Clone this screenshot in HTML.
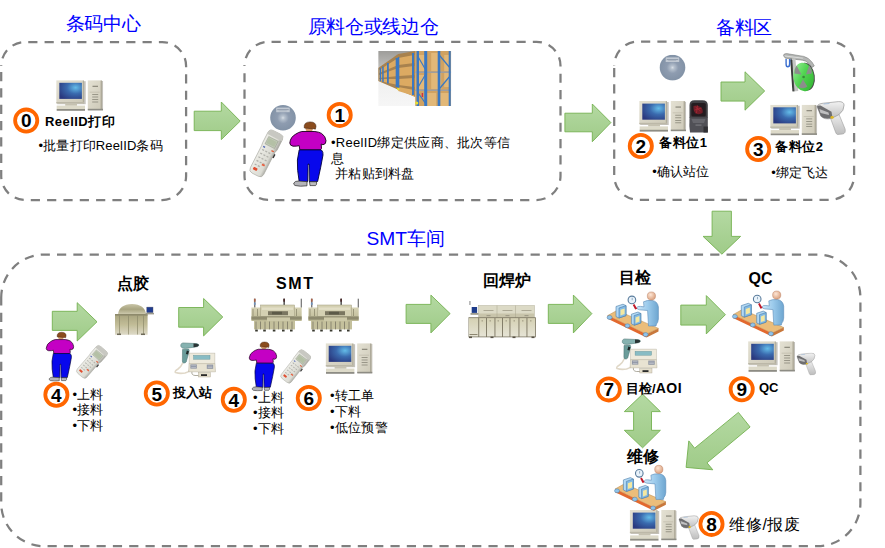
<!DOCTYPE html>
<html><head><meta charset="utf-8">
<style>
html,body{margin:0;padding:0;background:#fff;}
body{width:885px;height:548px;position:relative;overflow:hidden;font-family:"Liberation Sans",sans-serif;color:#000;}
.t{position:absolute;white-space:nowrap;line-height:1;}
.ti{color:#0000ff;font-size:19.2px;letter-spacing:-0.3px;}
.b{font-weight:bold;font-size:13px;}
.h{font-weight:bold;font-size:16px;}
.r{font-size:13px;}
svg{position:absolute;left:0;top:0;}
</style></head><body>
<svg width="885" height="548" viewBox="0 0 885 548">
<!--ICONS-->
<defs>
<radialGradient id="scr" cx="0.72" cy="0.3" r="0.85">
 <stop offset="0" stop-color="#64bce8"/><stop offset="0.45" stop-color="#3a6aae"/><stop offset="1" stop-color="#2a387e"/>
</radialGradient>
<linearGradient id="bez" x1="0" y1="0" x2="1" y2="1">
 <stop offset="0" stop-color="#e4e1d3"/><stop offset="1" stop-color="#cdc9b8"/>
</linearGradient>
<symbol id="pc" viewBox="0 0 47 31">
 <rect x="1" y="1" width="28.5" height="23" fill="#9c9a90" opacity="0.6"/>
 <rect x="0" y="0" width="27.8" height="23.2" fill="url(#bez)"/>
 <rect x="26.6" y="0.3" width="1.2" height="22.9" fill="#b1ad9c"/>
 <rect x="0" y="21.8" width="27.8" height="1.4" fill="#bcb8a8"/>
 <rect x="3.1" y="2.6" width="22.6" height="16.1" fill="url(#scr)"/>
 <rect x="9" y="23.2" width="11.8" height="2.4" fill="#c6c2b1"/>
 <rect x="0.4" y="25.4" width="28.4" height="3.6" fill="#dddac9"/>
 <rect x="0.4" y="28.8" width="28.4" height="1.8" fill="#8d8c84"/>
 <rect x="32.3" y="0.8" width="14.7" height="29.2" fill="#9c9a90" opacity="0.6"/>
 <rect x="31.6" y="0" width="14.2" height="29.8" fill="url(#bez)"/>
 <rect x="44.4" y="0.3" width="1.4" height="29.5" fill="#aeaa9a"/>
 <rect x="31.6" y="28.6" width="15.2" height="1.6" fill="#8d8c84"/>
 <rect x="36.3" y="5.6" width="5.5" height="0.9" fill="#6f6d60"/>
 <rect x="33.5" y="11.6" width="10" height="0.6" fill="#b9b5a4"/>
 <rect x="36" y="13.8" width="6" height="0.8" fill="#8a887a"/>
 <rect x="36" y="16.4" width="6" height="0.8" fill="#8a887a"/>
 <rect x="36" y="19" width="6" height="0.8" fill="#8a887a"/>
 <rect x="36" y="21.4" width="6" height="0.8" fill="#8a887a"/>
</symbol>
<radialGradient id="cdg" cx="0.5" cy="0.5" r="0.5">
 <stop offset="0" stop-color="#d8dee6"/><stop offset="0.15" stop-color="#b4bfcc"/><stop offset="0.45" stop-color="#8e9cb0"/><stop offset="1" stop-color="#8292a6"/>
</radialGradient>
<symbol id="cd" viewBox="0 0 27 26">
 <circle cx="13.3" cy="12.8" r="12.8" fill="url(#cdg)"/>
 <rect x="6.5" y="2.6" width="13.5" height="4.6" fill="#c0c8d2"/>
 <rect x="7.5" y="4.2" width="11.5" height="0.9" fill="#8e9aaa"/>
 <rect x="9" y="5.6" width="8" height="0.6" fill="#a0aab8"/>
</symbol>
</defs>
<defs>
<symbol id="person" viewBox="0 0 42 69">
 <ellipse cx="24.2" cy="11" rx="3.6" ry="2.6" fill="#d49a68"/>
 <path d="M19.2,9.8 Q18.6,4 25,3.9 Q31.2,4 31,8.6 L30.4,11.2 Q28.6,10.4 27,10.8 L22,10.2 Q20.4,10.6 19.2,9.8 Z" fill="#8a4c1e" stroke="#3a1a08" stroke-width="0.5"/>
 <path d="M16.8,13.5 L29.9,13.5 Q34,14 36.5,15.4 Q40.6,18 41,22.7 Q41.2,26.2 38,26.8 L36.2,26 L36.5,30.5 L35,32 L14.8,31.8 L14.2,27.6 Q12,28.4 8,28.2 Q5,27.8 4.8,25 Q5.4,19 10.8,16.1 Q13.5,14.2 16.8,13.5 Z" fill="#c400c4" stroke="#1a001a" stroke-width="0.9"/>
 <path d="M14.2,31.9 L36.4,31.9 Q38.4,34 38,37 L35.7,49.2 L32.6,63.5 L24.5,64 L24,46 L23.2,46 L22.6,63.7 L14.2,63.5 Q12,52 12.4,42 Z" fill="#0808ec" stroke="#00003a" stroke-width="0.9"/>
 <path d="M23.4,47 L23.9,63" stroke="#8888a0" stroke-width="0.8"/>
 <path d="M8.8,65 Q10,62.8 14,63 L22,63.6 L22,67.8 Q15,68.8 10,67.5 Q8.4,66.6 8.8,65 Z" fill="#b4b4b8" stroke="#2a2a2a" stroke-width="0.7"/>
 <path d="M24.5,63.7 L31.5,63.8 Q32.2,66.5 30.6,67.6 L25,67.6 Z" fill="#bcbcc0" stroke="#2a2a2a" stroke-width="0.7"/>
</symbol>
<linearGradient id="hhg" x1="0" y1="0" x2="1" y2="0">
 <stop offset="0" stop-color="#ecece6"/><stop offset="0.75" stop-color="#dcdcd4"/><stop offset="1" stop-color="#a4a49e"/>
</linearGradient>
<symbol id="hh" viewBox="-10 -30 20 60" overflow="visible">
 <path d="M-9,-24 Q-9,-29 -4,-29 L5,-29 Q9.5,-29 9.5,-24 L9.5,-10 L8.5,-6 L8.5,24 Q8.5,29 4,29 L-4,29 Q-8.5,29 -8.5,24 L-8.5,-6 L-9,-10 Z" fill="url(#hhg)" stroke="#a8a8a0" stroke-width="0.7"/>
 <path d="M-9,-24 Q-9,-29 -4,-29 L5,-29 Q9.5,-29 9.5,-24 L9.5,-22 L-9,-22 Z" fill="#c8c8c2"/>
 <rect x="-6" y="-20" width="12" height="10" fill="#c2cab8" stroke="#8a9282" stroke-width="0.5"/>
 <rect x="-5" y="-18.5" width="10" height="7" fill="#b4c0a6"/>
 <g fill="#b0b0aa">
  <rect x="-6" y="-3" width="2.4" height="1.5"/><rect x="-2" y="-3" width="2.4" height="1.5"/><rect x="2" y="-3" width="2.4" height="1.5"/>
  <rect x="-6" y="2" width="2.4" height="1.5"/><rect x="-2" y="2" width="2.4" height="1.5"/><rect x="2" y="2" width="2.4" height="1.5"/>
  <rect x="-6" y="7" width="2.4" height="1.5"/><rect x="-2" y="7" width="2.4" height="1.5"/><rect x="2" y="7" width="2.4" height="1.5"/>
  <rect x="-6" y="12" width="2.4" height="1.5"/><rect x="-2" y="12" width="2.4" height="1.5"/><rect x="2" y="12" width="2.4" height="1.5"/>
  <rect x="-6" y="17" width="2.4" height="1.5"/><rect x="-2" y="17" width="2.4" height="1.5"/>
 </g>
 <rect x="-6.5" y="-7" width="2.4" height="1.6" fill="#5068b8"/>
 <rect x="4" y="-7" width="3" height="1.6" fill="#e05a38"/>
 <rect x="1.5" y="13" width="3.5" height="2.2" fill="#e86040"/>
 <rect x="-5.5" y="21" width="5" height="3.4" rx="1" fill="#e04e30"/>
 <rect x="8.6" y="-4" width="1.6" height="5" fill="#333"/>
</symbol>
<linearGradient id="whc" x1="0" y1="0" x2="0" y2="1">
 <stop offset="0" stop-color="#9e9d9a"/><stop offset="0.35" stop-color="#c4c3c0"/><stop offset="0.55" stop-color="#f0f0f0"/><stop offset="1" stop-color="#f6f6f6"/>
</linearGradient>
<symbol id="wh" viewBox="0 0 73 55">
 <rect x="0" y="0" width="73" height="55" fill="url(#whc)"/>
 <polygon points="0,17 20,3 37,0 37,46 0,30" fill="#a8824e"/>
 <g fill="#dcaa62">
  <polygon points="1,19 20,7 36,4 36,12 20,14 1,22"/>
  <polygon points="1,24 20,17 36,15 36,24 20,25 1,27"/>
  <polygon points="1,28 20,28 36,27 36,36 20,34 1,30"/>
  <polygon points="20,36 36,39 36,45 20,40"/>
 </g>
 <g fill="#3b78c2">
  <rect x="1.5" y="17" width="1.4" height="13"/><rect x="4" y="15.5" width="1.5" height="15.5"/><rect x="8.8" y="12" width="1.8" height="20.5"/><rect x="17.5" y="7" width="2.3" height="29"/><rect x="19.6" y="6" width="1.5" height="31"/><rect x="33.8" y="2" width="2" height="42"/>
 </g>
 <rect x="37" y="0" width="36" height="55" fill="#d0a262"/>
 <g fill="#e2b878"><rect x="39" y="4" width="9" height="16"/><rect x="53" y="2" width="9" height="18"/><rect x="66" y="4" width="6" height="16"/><rect x="39" y="24" width="10" height="14"/><rect x="53" y="22" width="10" height="16"/><rect x="66" y="22" width="6" height="14"/><rect x="46" y="42" width="12" height="13"/><rect x="62" y="42" width="10" height="13"/></g>
 <g fill="#9a9ea6"><rect x="37" y="20.5" width="36" height="1.4"/><rect x="37" y="38.5" width="36" height="1.4"/></g>
 <g fill="#3878c4">
  <rect x="38.4" y="0" width="2.4" height="55"/><rect x="46" y="0" width="3" height="55"/><rect x="59.5" y="0" width="2.6" height="55"/><rect x="70.5" y="0" width="2" height="55"/>
 </g>
 <g stroke="#3878c4" stroke-width="1.2"><line x1="40" y1="6" x2="47" y2="18"/><line x1="47" y1="24" x2="40" y2="36"/><line x1="40" y1="42" x2="47" y2="52"/><line x1="61" y1="4" x2="71" y2="16"/><line x1="71" y1="26" x2="61" y2="38"/></g>
 <rect x="43.5" y="42" width="1.4" height="4" fill="#d03040"/>
 <circle cx="38.5" cy="52" r="1.6" fill="#e8e030"/><circle cx="20" cy="38" r="1.2" fill="#e8e030"/>
</symbol>
<symbol id="omni" viewBox="0 0 20 33">
 <path d="M1,18 L1,5 Q1,0.3 6,0.3 L14,0.3 Q19.3,0.3 19.3,5 L19.3,18 Z" fill="#404044"/>
 <rect x="2.8" y="3" width="14.5" height="13.5" rx="1.5" fill="#241c20"/>
 <path d="M5,6 Q9,4.5 12,7 Q15,9 14,13 Q11,15 7,13.5 Q4.5,11 5,6 Z" fill="#7a1e28" opacity="0.9"/>
 <path d="M7,7 L12,11 M9,5.5 L8,13 M6,10 L13,8" stroke="#b02a36" stroke-width="0.7"/>
 <path d="M1,17.5 L19.3,17.5 L19.3,32.5 L1.5,32.5 Q0.5,26 1,17.5 Z" fill="#505056"/>
 <path d="M3,19 L17,19 L15.5,23 L4.5,23 Z" fill="#66666c"/>
 <rect x="7" y="24.5" width="6" height="1.2" fill="#78787e"/>
 <rect x="15" y="26.5" width="4.3" height="6" fill="#303034"/>
</symbol>
<linearGradient id="reelg" x1="0" y1="0" x2="1" y2="1">
 <stop offset="0" stop-color="#a2f0a2"/><stop offset="0.45" stop-color="#52d452"/><stop offset="1" stop-color="#2fb02f"/>
</linearGradient>
<symbol id="feeder" viewBox="0 0 34 40">
 <path d="M0.5,2.5 Q1,0.3 4,0.6 L21,3.4 Q26,4.6 29.5,9.5 L31.5,13 L29,14.6 L26,10.4 Q23,7.6 19.5,7.2 L2.6,5.2 Z" fill="#b4b6b4" stroke="#6a6c6a" stroke-width="0.5"/>
 <path d="M2,3 L20,5.2" stroke="#e4e6e4" stroke-width="0.8"/>
 <rect x="7.6" y="5.6" width="5" height="33" fill="#c4c6c4" transform="rotate(-5 7.6 5.6)"/>
 <rect x="7.6" y="5.6" width="1.3" height="33" fill="#5a5c5a" transform="rotate(-5 7.6 5.6)"/>
 <path d="M7.5,7 L9.5,7 L11,38 L9.6,38.6 Z" fill="#3a3c3a"/>
 <path d="M2.6,6 L2.6,11 Q2.6,14.6 5,14.6 Q7.6,14.6 7.6,11 L7.6,6 L6.1,6 L6.1,11 Q6.1,13.1 5,13.1 Q4,13.1 4,11 L4,6 Z" fill="#3a6ed0"/>
 <ellipse cx="23.4" cy="23.6" rx="8.6" ry="14" fill="#4a4c4a" transform="rotate(-8 23.4 23.6)"/>
 <ellipse cx="20.8" cy="24" rx="10.2" ry="14.4" fill="url(#reelg)" transform="rotate(-8 20.8 24)"/>
 <g fill="#8c8e8c">
  <path d="M18.6,21.5 L13.8,12.6 Q11.6,15.6 11.6,20.6 Z"/>
  <path d="M23.2,21.5 L26.4,12.2 Q29.2,15.4 29,20.4 Z"/>
  <path d="M20.2,26.6 L16,34 Q20.6,36.6 24.6,33.6 Z"/>
 </g>
 <circle cx="20.8" cy="24" r="1.3" fill="#3a8a3a"/>
</symbol>
<linearGradient id="gung" x1="0" y1="0" x2="0" y2="1">
 <stop offset="0" stop-color="#f2f2f2"/><stop offset="1" stop-color="#bdbdbd"/>
</linearGradient>
<symbol id="gun" viewBox="0 0 30 34">
 <path d="M12.5,13 L21.5,11 L28.6,28 Q29.5,32.5 26,33 L21,33.5 Q19.5,33 19,31 Z" fill="url(#gung)" stroke="#9c9c9c" stroke-width="0.6"/>
 <path d="M0.5,5.5 Q1.5,2.6 7,2.2 L22,0.6 Q27.2,0.4 27.6,4 Q27.8,9.6 22.5,13.6 L15,17.4 Q8,19 4.4,15.2 Z" fill="url(#gung)" stroke="#8a8a8a" stroke-width="0.6"/>
 <path d="M0.5,5.5 Q1.2,4.2 4,4.6 L15,10.8 L16,16.8 Q8,19 4.4,15.2 Z" fill="#6e6e70"/>
 <path d="M2.8,8 L12,11.5 L12.5,14 L4,12 Z" fill="#bfbfc0"/>
 <ellipse cx="15.6" cy="16.4" rx="1.7" ry="1.4" fill="#e0b820"/>
 <path d="M7,3 L13,2.5" stroke="#9ab8d8" stroke-width="0.8"/>
</symbol>
</defs>
<defs>
<symbol id="term" viewBox="0 0 46 44">
 <path d="M11,26.5 Q9,31 6,33 Q2,35.5 3.6,36.6 Q8,38 13,37 Q17,36 18,34" fill="none" stroke="#e0d8c8" stroke-width="1.6"/>
 <path d="M20,35.5 Q19,39 23,39.5 L27,39.5" fill="none" stroke="#8c8878" stroke-width="0.7"/>
 <path d="M10.5,13.5 L16.6,13 Q17.6,14 17,16 L14.2,26 Q13.4,27.2 11.6,27 Q10.2,26.6 10.4,25 Z" fill="#6a9c9a" stroke="#48706e" stroke-width="0.5"/>
 <rect x="14.8" y="14.6" width="2.2" height="3.4" fill="#1e2626" transform="rotate(15 14.8 14.6)"/>
 <path d="M8.8,8.8 Q9.4,7 11,6.9 L24.5,7.6 Q27.4,8.2 26.8,9.6 Q26,10.8 23.6,11 L13.6,12.4 Q10,12.8 8.8,10.6 Z" fill="#86b2b0" stroke="#4e7472" stroke-width="0.5"/>
 <path d="M21.5,7.5 L24.8,7.7 Q27.4,8.2 26.8,9.6 Q26,10.8 23.6,11 L21.5,11.3 Z" fill="#2a3434"/>
 <rect x="17.1" y="17.1" width="25.8" height="11" fill="#eeeadc" stroke="#bcb7a8" stroke-width="0.5"/>
 <rect x="21.6" y="19.4" width="16.4" height="3.8" fill="#88bcc4" stroke="#5c8e96" stroke-width="0.4"/>
 <path d="M17.1,27.6 L42.9,27.6 L43.5,35.8 L16.6,35.8 Z" fill="#e8e3d2" stroke="#b4ae9c" stroke-width="0.5"/>
 <g fill="#8e94a2"><rect x="18.4" y="28.4" width="6.4" height="4.2"/><rect x="34.8" y="28.6" width="6.4" height="4.2"/></g>
 <g fill="#dadce4"><rect x="19.2" y="29.6" width="4.8" height="0.5"/><rect x="19.2" y="31" width="4.8" height="0.5"/><rect x="35.6" y="29.8" width="4.8" height="0.5"/><rect x="35.6" y="31.2" width="4.8" height="0.5"/></g>
 <rect x="26.3" y="36.6" width="12.2" height="4.4" fill="#e4decc" stroke="#a8a290" stroke-width="0.4"/>
 <rect x="29" y="38.2" width="6" height="1.8" fill="#2a2a2a"/>
</symbol>
<linearGradient id="dispg" x1="0" y1="0" x2="0" y2="1">
 <stop offset="0" stop-color="#a8a47e"/><stop offset="0.5" stop-color="#c2bd98"/><stop offset="1" stop-color="#dedac8"/>
</linearGradient>
<linearGradient id="domeg" x1="0" y1="0" x2="0" y2="1">
 <stop offset="0" stop-color="#c8c4a6"/><stop offset="0.5" stop-color="#a8a480"/><stop offset="1" stop-color="#d0ccb0"/>
</linearGradient>
<symbol id="disp" viewBox="0 0 40 32">
 <path d="M3,11 Q4,1 17,0.6 Q30,1 31,11 Z" fill="url(#domeg)"/>
 <rect x="0" y="11" width="32.6" height="20.3" fill="url(#dispg)"/>
 <g fill="#8e8a6c" opacity="0.7"><rect x="4" y="12" width="1" height="19"/><rect x="13" y="12" width="1" height="19"/><rect x="22" y="12" width="1" height="19"/><rect x="28" y="12" width="1" height="19"/></g>
 <rect x="0" y="10.5" width="32.6" height="1.6" fill="#8e8a6c"/>
 <rect x="2" y="30" width="4" height="1.6" fill="#6e6a58"/><rect x="26" y="30" width="4" height="1.6" fill="#6e6a58"/>
 <rect x="31.8" y="3.6" width="6.2" height="5.6" fill="#203c90" stroke="#556" stroke-width="0.4"/>
 <rect x="30.5" y="9.3" width="8.5" height="1.6" fill="#9c9a8c"/>
</symbol>
<linearGradient id="smtg" x1="0" y1="0" x2="0" y2="1">
 <stop offset="0" stop-color="#d6d2b4"/><stop offset="1" stop-color="#bdb995"/>
</linearGradient>
<symbol id="smt" viewBox="0 0 58 42">
 <rect x="6.1" y="6.7" width="1.3" height="9" fill="#6a6a6a"/><rect x="5.9" y="6.7" width="1.7" height="3" fill="#a86048"/><rect x="5.9" y="10.5" width="1.7" height="2.4" fill="#7090b8"/>
 <rect x="35.5" y="6.7" width="1.3" height="9" fill="#3a3a3a"/><rect x="35.3" y="6.7" width="1.7" height="3" fill="#4a2a2a"/>
 <rect x="52.7" y="6.7" width="1.2" height="9" fill="#707070"/>
 <rect x="3.4" y="15.5" width="50.3" height="13.5" fill="url(#smtg)"/>
 <rect x="12.6" y="13" width="34" height="11.4" fill="#d4d0b2" stroke="#9e9a7e" stroke-width="0.5"/>
 <rect x="14" y="15.5" width="31" height="2.4" fill="#e2dec6"/>
 <rect x="20" y="19.2" width="20" height="4" fill="#7a7660"/>
 <rect x="24" y="19.8" width="10" height="2.6" fill="#5c5a48"/>
 <g fill="#8e8a6e"><rect x="4.6" y="17" width="0.8" height="7"/><rect x="9" y="17" width="0.8" height="7"/><rect x="48" y="17" width="0.8" height="7"/></g>
 <rect x="3.4" y="24.4" width="50.3" height="3.3" fill="#8e8a6e"/>
 <rect x="19" y="25.4" width="23" height="4.8" fill="#cdc9a8"/>
 <rect x="6" y="29" width="41" height="8.4" fill="#c4c09c"/>
 <g fill="#8a8670"><rect x="7.5" y="29.5" width="1" height="7.8"/><rect x="12" y="29.5" width="1" height="7.8"/><rect x="16.5" y="29.5" width="1" height="7.8"/><rect x="21" y="29.5" width="1" height="7.8"/><rect x="25.5" y="29.5" width="1" height="7.8"/><rect x="30" y="29.5" width="1" height="7.8"/><rect x="34.5" y="29.5" width="1" height="7.8"/><rect x="39" y="29.5" width="1" height="7.8"/><rect x="43.5" y="29.5" width="1" height="7.8"/></g>
 <g fill="#3a3a30"><rect x="7.2" y="37.6" width="2.6" height="1.9"/><rect x="15.2" y="37.6" width="2.6" height="1.9"/><rect x="24.8" y="37.6" width="2.6" height="1.9"/><rect x="34" y="37.6" width="2.6" height="1.9"/><rect x="42" y="37.6" width="2.6" height="1.9"/></g>
</symbol>
<linearGradient id="rfg" x1="0" y1="0" x2="0" y2="1">
 <stop offset="0" stop-color="#d4d0b2"/><stop offset="1" stop-color="#e6e4d6"/>
</linearGradient>
<symbol id="reflow" viewBox="0 0 68 38">
 <rect x="1" y="0" width="0.9" height="4" fill="#777"/>
 <rect x="10" y="4.5" width="56" height="12.4" fill="#dcdac6" stroke="#b4b09a" stroke-width="0.5"/>
 <g fill="#c8c4aa"><rect x="10.5" y="12.5" width="55" height="3.8"/></g>
 <g stroke="#a8a48e" stroke-width="0.5"><line x1="28.5" y1="4.5" x2="28.5" y2="17"/><line x1="47" y1="4.5" x2="47" y2="17"/></g>
 <g fill="#a09c88"><rect x="15" y="9" width="10" height="0.8"/><rect x="34" y="9" width="10" height="0.8"/><rect x="53" y="9" width="10" height="0.8"/><rect x="18" y="14" width="4" height="1.2"/><rect x="37" y="14" width="4" height="1.2"/><rect x="56" y="14" width="4" height="1.2"/></g>
 <rect x="3.2" y="6" width="5.4" height="5.9" fill="#1e3c8a"/>
 <rect x="2" y="12" width="8" height="1.8" fill="#9e9c8e"/>
 <rect x="0" y="16.7" width="67" height="19.2" fill="url(#rfg)" stroke="#7a7460" stroke-width="0.8"/>
 <g fill="#7a7460"><rect x="9.8" y="17" width="0.9" height="19"/><rect x="17.5" y="17" width="0.9" height="19"/><rect x="26" y="17" width="0.9" height="19"/><rect x="33.5" y="17" width="0.9" height="19"/><rect x="41" y="17" width="0.9" height="19"/><rect x="50" y="17" width="0.9" height="19"/><rect x="58" y="17" width="0.9" height="19"/></g>
 <g fill="#8c8670"><rect x="13" y="19.5" width="1.5" height="0.8"/><rect x="21" y="19.5" width="1.5" height="0.8"/><rect x="29" y="19.5" width="1.5" height="0.8"/><rect x="37" y="19.5" width="1.5" height="0.8"/><rect x="45" y="19.5" width="1.5" height="0.8"/><rect x="53.5" y="19.5" width="1.5" height="0.8"/><rect x="61.5" y="19.5" width="1.5" height="0.8"/></g>
 <rect x="1" y="33" width="8" height="1" fill="#8c8670"/>
 <g fill="#5a5448"><rect x="0.5" y="35.5" width="3" height="1.6"/><rect x="22" y="35.5" width="3" height="1.6"/><rect x="44" y="35.5" width="3" height="1.6"/><rect x="63" y="35.5" width="3" height="1.6"/></g>
</symbol>
<linearGradient id="ppl" x1="0" y1="0" x2="1" y2="0">
 <stop offset="0" stop-color="#cfe6f6"/><stop offset="0.5" stop-color="#9ccbec"/><stop offset="1" stop-color="#6ea6d0"/>
</linearGradient>
<radialGradient id="skin" cx="0.4" cy="0.35" r="0.7"><stop offset="0" stop-color="#fde6d6"/><stop offset="1" stop-color="#d89c78"/></radialGradient>
<symbol id="insp" viewBox="0 0 58 52">
 <polygon points="3.7,27.6 13,22.4 54.5,40.4 42.5,46.2" fill="#ebbd7a" stroke="#b8884a" stroke-width="0.5"/>
 <polygon points="3.7,27.6 42.5,46.2 42.5,49.4 3.7,30.8" fill="#e2692e"/>
 <polygon points="42.5,46.2 54.5,40.4 54.5,43.4 42.5,49.4" fill="#c8783c"/>
 <g stroke="#c8985c" stroke-width="0.4"><line x1="20" y1="27.2" x2="12" y2="31.5"/><line x1="34" y1="34" x2="26" y2="38.3"/></g>
 <g fill="#90c4ea" stroke="#4a7ca8" stroke-width="0.5"><ellipse cx="5.6" cy="29.4" rx="2.5" ry="2"/><ellipse cx="23.4" cy="37.8" rx="2.5" ry="2"/><ellipse cx="41.6" cy="46.6" rx="2.5" ry="2"/></g>
 <g stroke="#4a7ca8" stroke-width="0.6">
  <polygon points="12,18.5 19,16.2 22,17.6 22,27.6 15,30 12,28.6" fill="#b2d8f4"/>
  <polygon points="15,20 22,17.6 22,27.6 15,30" fill="#84bae4"/>
  <polygon points="16.5,21.8 20.6,20.4 20.6,26 16.5,27.5" fill="#f4e8a0" stroke="none"/>
  <polygon points="27.4,26.2 34,24 36.8,25.4 36.8,35 30.2,37.2 27.4,35.8" fill="#b2d8f4"/>
  <polygon points="30.2,27.6 36.8,25.4 36.8,35 30.2,37.2" fill="#84bae4"/>
  <polygon points="31.6,29.4 35.4,28 35.4,33.6 31.6,35" fill="#f4e8a0" stroke="none"/>
 </g>
 <path d="M39.5,13.8 Q43,12 48,12.4 Q53.6,13.2 54.4,19 L54.4,31 Q54,35 52.5,36 L52,38 L44.5,38 L43.6,22.5 L35.5,21.8 Q32.5,21.2 32.8,19.6 Q33.5,18 36.5,18.4 L40,18.8 Z" fill="url(#ppl)" stroke="#5a8cb8" stroke-width="0.6"/>
 <circle cx="47.4" cy="8" r="4.1" fill="url(#skin)" stroke="#b07050" stroke-width="0.4"/>
 <path d="M30.4,16 L33.2,20.8 L31.2,21.6 L28.8,17 Z" fill="#c01828"/>
 <circle cx="27.9" cy="11.9" r="3.8" fill="#e8f2fa" stroke="#5a7c9c" stroke-width="1.1"/>
 <line x1="28.2" y1="9.8" x2="28.2" y2="12.2" stroke="#5a7c9c" stroke-width="0.6"/>
</symbol>
</defs>
<use href="#pc" x="56.2" y="80.2" width="47" height="31"/>
<use href="#pc" x="639.2" y="101" width="47" height="31"/>
<use href="#pc" x="770.2" y="104.7" width="47" height="31"/>
<use href="#pc" x="325.6" y="343.2" width="47" height="31"/>
<use href="#pc" x="748.1" y="341.2" width="47" height="31"/>
<use href="#pc" x="629.7" y="510" width="47" height="31"/>
<use href="#cd" x="659.2" y="54.8" width="27" height="26"/>
<use href="#cd" x="269.7" y="105" width="27" height="26"/>
<use href="#person" x="285" y="118" width="42" height="69"/>
<use href="#person" x="42.5" y="329.3" width="32" height="52.4"/>
<use href="#person" x="245.5" y="339" width="32" height="52.4"/>
<use href="#hh" x="-10" y="-30" width="20" height="60" transform="translate(266,153.5) rotate(27) scale(0.88,0.82)"/>
<use href="#wh" x="378.2" y="51" width="73" height="55"/>
<use href="#omni" x="688.5" y="100" width="20" height="33"/>
<use href="#feeder" x="782.8" y="53" width="34" height="40"/>
<use href="#gun" x="816.5" y="101" width="30" height="34"/>
<use href="#hh" x="-10" y="-30" width="20" height="60" transform="translate(91.7,362) rotate(41) scale(0.74,0.61)"/>
<use href="#hh" x="-10" y="-30" width="20" height="60" transform="translate(295.4,366.5) rotate(38) scale(0.74,0.61)"/>
<use href="#term" x="172" y="336" width="46" height="44"/>
<use href="#term" x="613.5" y="332" width="46" height="44"/>
<use href="#disp" x="115" y="303.5" width="40" height="32"/>
<use href="#smt" x="248" y="292" width="58" height="42"/>
<use href="#smt" x="305" y="292" width="58" height="42"/>
<use href="#reflow" x="468.5" y="301" width="68" height="38"/>
<use href="#insp" x="604" y="288" width="58" height="52"/>
<use href="#insp" x="729.3" y="287.1" width="58" height="52"/>
<use href="#insp" x="611.4" y="461.4" width="58" height="52"/>
<use href="#gun" x="796.5" y="352.5" width="20" height="23"/>
<use href="#gun" x="678.5" y="515" width="21.5" height="25"/>

<!--/ICONS-->
<g fill="none" stroke="#7f7f7f" stroke-width="2.25" stroke-dasharray="9.2 7.13">
<path d="M1.2,66 A24,24 0 0 1 25.2,42 H162.1 A24,24 0 0 1 186.1,66 V176 A24,24 0 0 1 162.1,200 H25.2 A24,24 0 0 1 1.2,176 Z" stroke-dashoffset="8.49"/>
<path d="M244.5,65.8 A24,24 0 0 1 268.5,41.8 H536.5 A24,24 0 0 1 560.5,65.8 V176.0 A24,24 0 0 1 536.5,200.0 H268.5 A24,24 0 0 1 244.5,176.0 Z" stroke-dashoffset="8.49"/>
<path d="M614.2,65.6 A24,24 0 0 1 638.2,41.6 H830.1 A24,24 0 0 1 854.1,65.6 V175.79999999999998 A24,24 0 0 1 830.1,199.79999999999998 H638.2 A24,24 0 0 1 614.2,175.79999999999998 Z" stroke-dashoffset="8.69"/>
<path d="M1.2,297.5 A43,43 0 0 1 44.2,254.5 H817.4000000000001 A43,43 0 0 1 860.4000000000001,297.5 V503.20000000000005 A43,43 0 0 1 817.4000000000001,546.2 H44.2 A43,43 0 0 1 1.2,503.20000000000005 Z" stroke-dashoffset="1.41"/>
</g>
<defs><linearGradient id="ag" x1="0" y1="0" x2="0" y2="1"><stop offset="0" stop-color="#b4d9a2"/><stop offset="1" stop-color="#9fcb88"/></linearGradient></defs>
<g fill="url(#ag)" stroke="#74b150" stroke-width="0.9" stroke-linejoin="miter">
<polygon points="194.2,111.2 221.3,111.2 221.3,102 240.2,121.1 221.3,139.6 221.3,130.6 194.2,130.6"/>
<polygon points="564.9,113.2 592.3,113.2 592.3,104 610.9,122.6 592.3,141.7 592.3,131.8 564.9,131.8"/>
<polygon points="721,82 745,82 745,71.8 764.7,91 745,110.2 745,101.1 721,101.1"/>
<polygon points="712.1,211.2 731.4,211.2 731.4,236.4 740.6,236.4 721.9,254.2 703.1,236.4 712.1,236.4"/>
<polygon points="52.3,311.3 77.2,311.3 77.2,302.7 97,321.8 77.2,341 77.2,330.4 52.3,330.4"/>
<polygon points="178.7,307.5 203.6,307.5 203.6,298.5 222.8,317 203.6,335.9 203.6,327.2 178.7,327.2"/>
<polygon points="406.1,304.4 430.9,304.4 430.9,295.1 450.1,313.6 430.9,332.9 430.9,323.4 406.1,323.4"/>
<polygon points="548.3,304.4 573.4,304.4 573.4,295.1 591.9,313.6 573.4,332.9 573.4,323.4 548.3,323.4"/>
<polygon points="680.8,305.1 706.3,305.1 706.3,295.6 725.4,314.7 706.3,333.9 706.3,325.1 680.8,325.1"/>
<polygon points="642.6,394.2 660.4,411.6 651.5,411.6 651.5,430.3 660.4,430.3 642.6,447.8 624.3,430.3 633.6,430.3 633.6,411.6 624.3,411.6"/>
<polygon points="738.4,412.4 750.1,427 707,462.8 712.8,469.8 686.1,467.4 688.8,440.9 694.6,448.2"/>
</g>
<g fill="none" stroke="#ff6600" stroke-width="3.8">
<circle cx="26.2" cy="120.6" r="11.1"/>
<circle cx="339.7" cy="114.9" r="11.1"/>
<circle cx="640.8" cy="146" r="11.1"/>
<circle cx="758.2" cy="149" r="11.1"/>
<circle cx="56.4" cy="394.8" r="11.1"/>
<circle cx="156.8" cy="393.5" r="11.1"/>
<circle cx="233.8" cy="399.8" r="11.1"/>
<circle cx="308.8" cy="398" r="11.1"/>
<circle cx="608.8" cy="389.4" r="11.1"/>
<circle cx="741.7" cy="389.2" r="11.1"/>
<circle cx="711.5" cy="523.9" r="11.1"/>
</g>
<g font-family="Liberation Sans" font-size="19" text-anchor="middle" fill="#000">
<text x="26.2" y="127.3" font-weight="bold">0</text>
<text x="339.7" y="121.8" font-weight="bold">1</text>
<text x="640.8" y="153" font-weight="bold">2</text>
<text x="758.2" y="156" font-weight="bold">3</text>
<text x="56.4" y="401.8" font-weight="bold">4</text>
<text x="156.8" y="400.5" font-weight="bold">5</text>
<text x="233.8" y="406.8" font-weight="bold">4</text>
<text x="308.8" y="405" font-weight="bold">6</text>
<text x="608.8" y="396.4" font-weight="bold">7</text>
<text x="741.7" y="396.2" font-weight="bold">9</text>
<text x="711.5" y="530.9" font-weight="bold">8</text>
</g>
</svg>
<div class="t ti" style="left:65.5px;top:14.3px">条码中心</div>
<div class="t ti" style="left:307.6px;top:16.6px">原料仓或线边仓</div>
<div class="t ti" style="left:716px;top:17.9px">备料区</div>
<div class="t ti" style="left:366.5px;top:229.3px;letter-spacing:0px">SMT车间</div>

<div class="t b" style="left:45px;top:114.5px;letter-spacing:0.45px">ReelID打印</div>
<div class="t r" style="left:38.5px;top:139px;letter-spacing:0.15px">•批量打印ReelID条码</div>
<div class="t r" style="left:331px;top:135px;line-height:15.5px;letter-spacing:0.3px">•ReelID绑定供应商、批次等信<br>息<br>&nbsp;并粘贴到料盘</div>
<div class="t b" style="left:659.3px;top:136px;letter-spacing:0.5px">备料位1</div>
<div class="t r" style="left:652.3px;top:164.5px">•确认站位</div>
<div class="t b" style="left:775.3px;top:140px;letter-spacing:0.5px">备料位2</div>
<div class="t r" style="left:771.3px;top:165.5px">•绑定飞达</div>

<div class="t h" style="left:116.5px;top:276px">点胶</div>
<div class="t h" style="left:276px;top:275.5px;letter-spacing:1.6px">SMT</div>
<div class="t h" style="left:482.7px;top:273.4px">回焊炉</div>
<div class="t h" style="left:618.5px;top:269.5px">目检</div>
<div class="t h" style="left:748.5px;top:271px">QC</div>
<div class="t b" style="left:173px;top:386px">投入站</div>
<div class="t b" style="left:626px;top:381px">目检/<span style="font-size:14px;letter-spacing:0.6px">AOI</span></div>
<div class="t b" style="left:759px;top:381px">QC</div>
<div class="t h" style="left:627px;top:449px">维修</div>
<div class="t r" style="left:72.5px;top:386.5px;line-height:15.9px">•上料<br>•接料<br>•下料</div>
<div class="t r" style="left:253px;top:389.5px;line-height:15.6px">•上料<br>•接料<br>•下料</div>
<div class="t r" style="left:330px;top:388px;line-height:15.8px;letter-spacing:0.3px">•转工单<br>•下料<br>•低位预警</div>
<div class="t" style="left:729px;top:516.8px;font-size:15.8px;letter-spacing:0.7px">维修/报废</div>
</body></html>
